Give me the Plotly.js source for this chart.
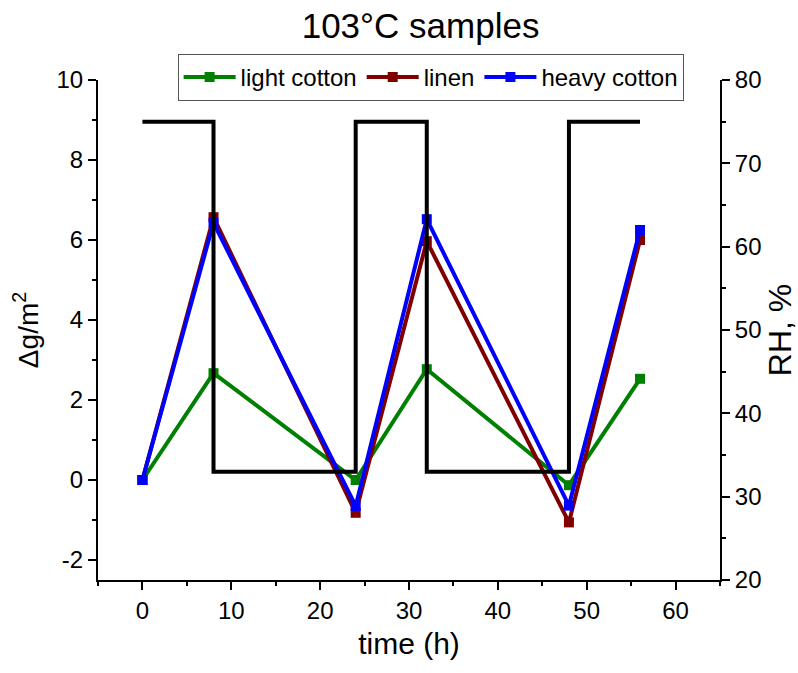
<!DOCTYPE html>
<html>
<head>
<meta charset="utf-8">
<script src="https://cdn.plot.ly/plotly-3.0.1.min.js"></script>
<style>
  html, body { margin: 0; padding: 0; background: #fff; }
  #chart { width: 798px; height: 673px; }
</style>
</head>
<body>
<div id="chart"></div>
<script>
// Sampling times (h)
const timeH = [0, 8, 24, 32, 48, 56];

// Mass change per area (g/m^2)
const lightCotton = [0, 2.67, 0.0, 2.77, -0.13, 2.53];
const linen       = [0, 6.57, -0.82, 5.97, -1.06, 6.0];
const heavyCotton = [0, 6.43, -0.65, 6.52, -0.64, 6.25];

// Relative humidity programme (%), step profile
const rhTime  = [0, 8, 8, 24, 24, 32, 32, 48, 48, 56];
const rhValue = [75, 75, 33, 33, 75, 75, 33, 33, 75, 75];

// Left axis tick labels (plain hyphen for negatives)
const massTickVals = [-2, 0, 2, 4, 6, 8, 10];
const massTickText = ['-2', '0', '2', '4', '6', '8', '10'];

const FONT = 'Liberation Sans, Arial, sans-serif';

function series(name, y, color) {
  return {
    x: timeH, y: y, name: name, type: 'scatter', mode: 'lines+markers',
    line: { color: color, width: 4 },
    marker: { symbol: 'square', size: 10, color: color },
    yaxis: 'y'
  };
}

const traces = [
  series('light cotton', lightCotton, '#008000'),
  series('linen', linen, '#800000'),
  series('heavy cotton', heavyCotton, '#0000ff'),
  {
    x: rhTime, y: rhValue, name: 'RH', type: 'scatter', mode: 'lines',
    line: { color: '#000000', width: 4 },
    yaxis: 'y2', showlegend: false
  }
];

const minorTicks = (d) => ({ dtick: d, ticklen: 4, tickwidth: 2, tickcolor: '#000', ticks: 'outside' });

const axisCommon = {
  showline: true, linecolor: '#000', linewidth: 2,
  ticks: 'outside', ticklen: 8, tickwidth: 2, tickcolor: '#000',
  showgrid: false, zeroline: false,
  tickfont: { family: FONT, size: 24, color: '#000' }
};

const layout = {
  width: 798, height: 673,
  paper_bgcolor: '#fff', plot_bgcolor: '#fff',
  margin: { l: 98, r: 78, t: 80, b: 93 },
  font: { family: FONT, color: '#000' },
  title: {
    text: '103°C samples',
    font: { family: FONT, size: 35, color: '#000' },
    x: 0.527, xanchor: 'center', y: 0.962, yanchor: 'middle'
  },
  xaxis: Object.assign({}, axisCommon, {
    range: [-5, 65], dtick: 10, tick0: 0,
    minor: minorTicks(5),
    title: { text: 'time (h)', font: { family: FONT, size: 30, color: '#000' }, standoff: 10 }
  }),
  yaxis: Object.assign({}, axisCommon, {
    range: [-2.5, 10], tickmode: 'array', tickvals: massTickVals, ticktext: massTickText,
    minor: minorTicks(1),
    title: { text: 'Δg/m<sup>2</sup>', font: { family: FONT, size: 28, color: '#000' }, standoff: 10 }
  }),
  yaxis2: Object.assign({}, axisCommon, {
    overlaying: 'y', side: 'right',
    range: [20, 80], dtick: 10, tick0: 20,
    minor: minorTicks(5),
    title: { text: 'RH, %', font: { family: FONT, size: 32, color: '#000' }, standoff: 10 }
  }),
  legend: {
    orientation: 'h', x: 0.128, xanchor: 'left', y: 1.052, yanchor: 'top',
    bgcolor: '#fff', bordercolor: '#555', borderwidth: 1,
    font: { family: FONT, size: 24, color: '#000' },
    itemwidth: 52, tracegroupgap: 0
  },
  showlegend: true
};

Plotly.newPlot('chart', traces, layout, { displayModeBar: false, staticPlot: true });
</script>
</body>
</html>
